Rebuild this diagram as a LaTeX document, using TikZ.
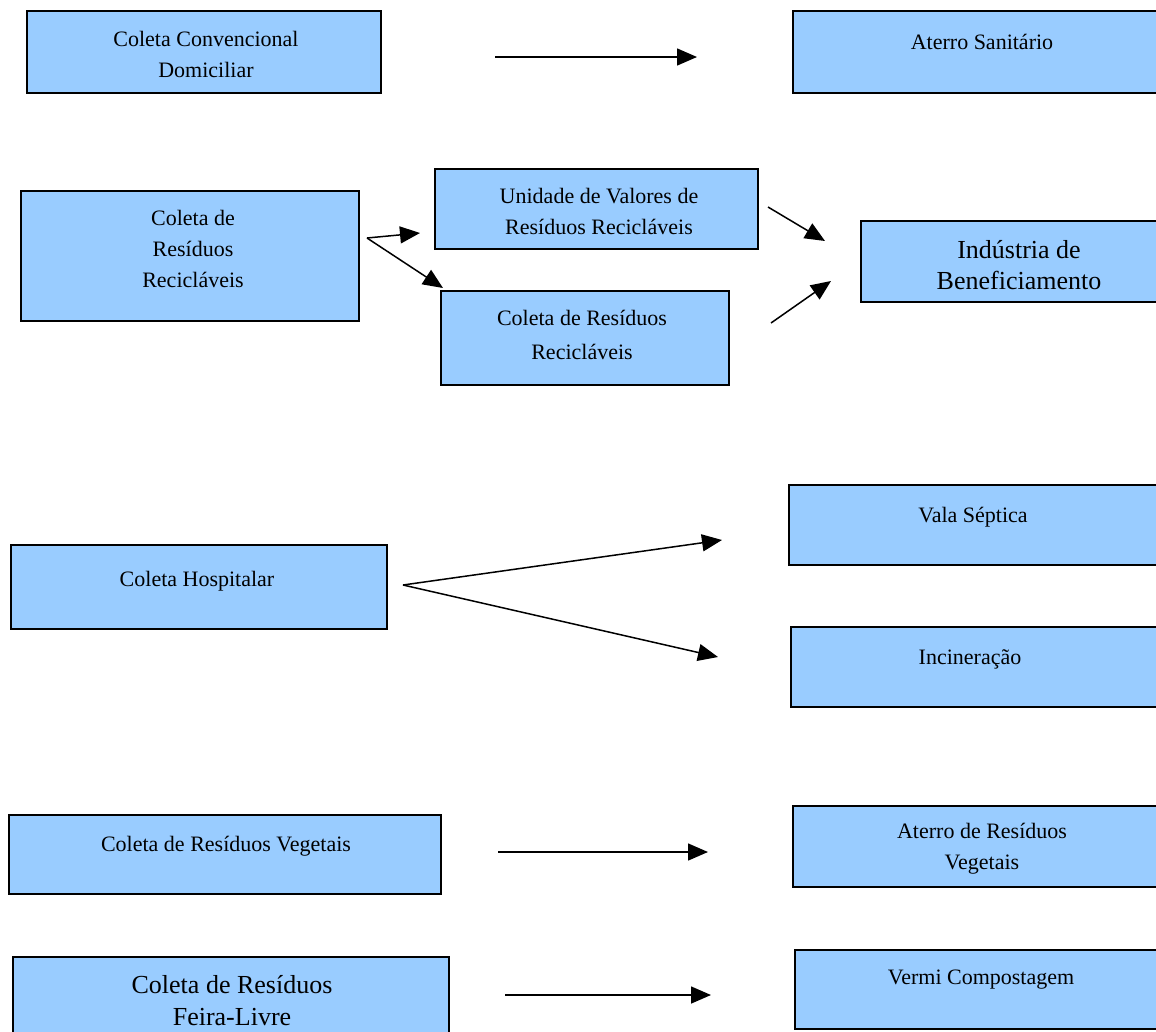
\documentclass[tikz,border=0pt]{standalone}
\usepackage{fontspec}
\setmainfont{Liberation Serif}
\usetikzlibrary{arrows.meta}
\definecolor{boxblue}{RGB}{153,204,255}
\tikzset{
  box/.style={draw=black, line width=2pt, fill=boxblue, rectangle, inner sep=0pt},
  txt/.style={inner sep=0pt, align=center, font=\fontsize{22}{31}\selectfont},
  bigtxt/.style={inner sep=0pt, align=center, font=\fontsize{26}{31}\selectfont},
  arr/.style={line width=1.5pt, -{Triangle[length=20pt,width=17pt]}}
}
\begin{document}
\begin{tikzpicture}[x=1pt,y=-1pt]
\clip (0,0) rectangle (1156,1031);
\fill[white] (0,0) rectangle (1156,1031);
% boxes
\node[box, minimum width=354pt, minimum height=82pt] (cc) at (204,52) {};
\node[box, minimum width=377pt, minimum height=82pt] (as) at (981.5,52) {};
\node[box, minimum width=338pt, minimum height=130pt] (cr) at (190,256) {};
\node[box, minimum width=323pt, minimum height=80pt] (uv) at (596.5,209) {};
\node[box, minimum width=288pt, minimum height=94pt] (cm) at (585,338) {};
\node[box, minimum width=309pt, minimum height=81pt] (ib) at (1015.5,261.5) {};
\node[box, minimum width=381pt, minimum height=80pt] (vs) at (979.5,525) {};
\node[box, minimum width=376pt, minimum height=84pt] (ch) at (199,587) {};
\node[box, minimum width=379pt, minimum height=80pt] (in) at (980.5,667) {};
\node[box, minimum width=432pt, minimum height=79pt] (cv) at (225,854.5) {};
\node[box, minimum width=377pt, minimum height=81pt] (av) at (981.5,846.5) {};
\node[box, minimum width=436pt, minimum height=93pt] (cf) at (231,1003.5) {};
\node[box, minimum width=375pt, minimum height=79pt] (vc) at (982.5,989.5) {};
% texts
\node[txt] (tcc) at (206,54) {Coleta Convencional\\Domiciliar};
\node[txt] (tas) at (982,42) {Aterro Sanitário};
\node[txt] (tcr) at (193,249) {Coleta de\\Resíduos\\Recicláveis};
\node[txt] (tuv) at (599,211.5) {Unidade de Valores de\\Resíduos Recicláveis};
\node[txt, font=\fontsize{22}{34}\selectfont] (tcm) at (582,335) {Coleta de Resíduos\\Recicláveis};
\node[bigtxt] (tib) at (1019,265.5) {Indústria de\\Beneficiamento};
\node[txt] (tvs) at (973,517) {Vala Séptica};
\node[txt] (tch) at (197,581) {Coleta Hospitalar};
\node[txt] (tin) at (970,659) {Incineração};
\node[txt] (tcv) at (226,846) {Coleta de Resíduos Vegetais};
\node[txt] (tav) at (982,848.5) {Aterro de Resíduos\\Vegetais};
\node[bigtxt, font=\fontsize{26}{32}\selectfont] (tcf) at (232,1001) {Coleta de Resíduos\\Feira-Livre};
\node[txt] (tvc) at (981,980) {Vermi Compostagem};
% arrow ends
\coordinate (a1s) at (495,57);  \coordinate (a1e) at (697,57);
\coordinate (a2s) at (367,238); \coordinate (a2e) at (420,233);
\coordinate (a3e) at (443,288);
\coordinate (a4s) at (768,207); \coordinate (a4e) at (825,241);
\coordinate (a5s) at (771,323); \coordinate (a5e) at (831,281);
\coordinate (a6s) at (403,585); \coordinate (a6e) at (722,540);
\coordinate (a7e) at (718,657);
\coordinate (a8s) at (498,852); \coordinate (a8e) at (708,852);
\coordinate (a9s) at (505,995); \coordinate (a9e) at (711,995);
% arrows
\draw[arr] (a1s) -- (a1e);
\draw[arr] (a2s) -- (a2e);
\draw[arr] (a2s) -- (a3e);
\draw[arr] (a4s) -- (a4e);
\draw[arr] (a5s) -- (a5e);
\draw[arr] (a6s) -- (a6e);
\draw[arr] (a6s) -- (a7e);
\draw[arr] (a8s) -- (a8e);
\draw[arr] (a9s) -- (a9e);
\end{tikzpicture}
\end{document}
